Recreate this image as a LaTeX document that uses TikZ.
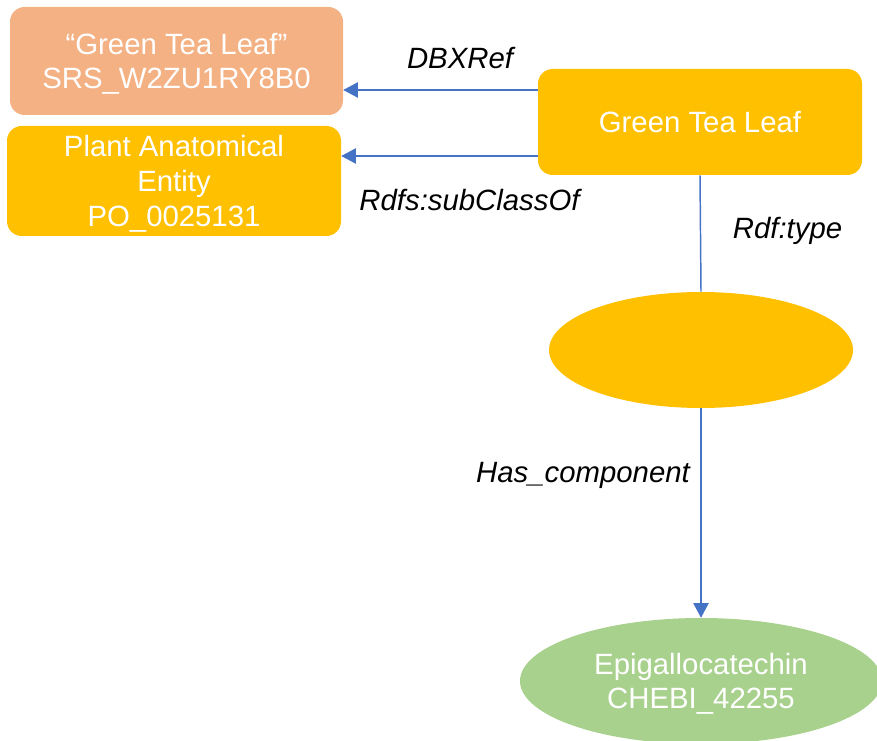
\documentclass[tikz,border=0pt]{standalone}
\usepackage{fontspec}
\setmainfont{Liberation Sans}
\usetikzlibrary{arrows.meta,shapes.geometric}

\definecolor{gold}{HTML}{FFC000}
\definecolor{salmon}{HTML}{F4B183}
\definecolor{leafgreen}{HTML}{A9D18E}
\definecolor{linkblue}{HTML}{4472C4}

\tikzset{
  box/.style={draw=none, rounded corners=11pt, inner sep=0pt, align=center,
              text=white, font=\fontsize{22}{26}\selectfont, text depth=-1pt},
  oval/.style={ellipse, draw=none, inner sep=0pt, align=center,
               text=white, font=\fontsize{22}{25}\selectfont, text depth=-7.5pt},
  link/.style={draw=linkblue, line width=1.1pt},
  arr/.style={link, -{Triangle[width=11.5pt,length=11pt]}},
  rel/.style={font=\fontsize{22}{25.5}\selectfont\itshape, anchor=base, inner sep=0pt}
}

\begin{document}
\begin{tikzpicture}[x=0.75pt, y=-0.75pt]
  \useasboundingbox (0,0) rectangle (877,741);

  % entity boxes
  \node[box, fill=salmon, minimum width=249.75pt, minimum height=81pt] (srs) at (176.5,61)
    {“Green Tea Leaf”\\SRS\_W2ZU1RY8B0};
  \node[box, fill=gold, minimum width=250.5pt, minimum height=82.5pt, text depth=-3pt] (po) at (174,181)
    {Plant Anatomical\\Entity\\PO\_0025131};
  \node[box, fill=gold, minimum width=243pt, minimum height=79.5pt, text depth=-4pt] (gtl) at (700,122)
    {Green Tea Leaf};

  % ellipses
  \node[oval, fill=gold, minimum width=228pt, minimum height=87pt] (mid) at (701,350) {};
  \node[oval, fill=leafgreen, minimum width=271.5pt, minimum height=94.5pt] (chebi) at (701,681)
    {Epigallocatechin\\CHEBI\_42255};

  % connectors
  \draw[arr] (gtl.west |- 0,90) -- (srs.east |- 0,90);
  \draw[arr] (gtl.west |- 0,156) -- (po.east |- 0,156);
  \draw[link] (gtl.south) -- (mid.north);
  \draw[arr] (mid.south) -- (chebi.north);

  % relation labels
  \node[rel] (l1) at (460,69) {DBXRef};
  \node[rel] (l2) at (469.5,211) {Rdfs:subClassOf};
  \node[rel] (l3) at (787.5,239) {Rdf:type};
  \node[rel] (l4) at (583,482) {Has\_component};
\end{tikzpicture}
\end{document}
